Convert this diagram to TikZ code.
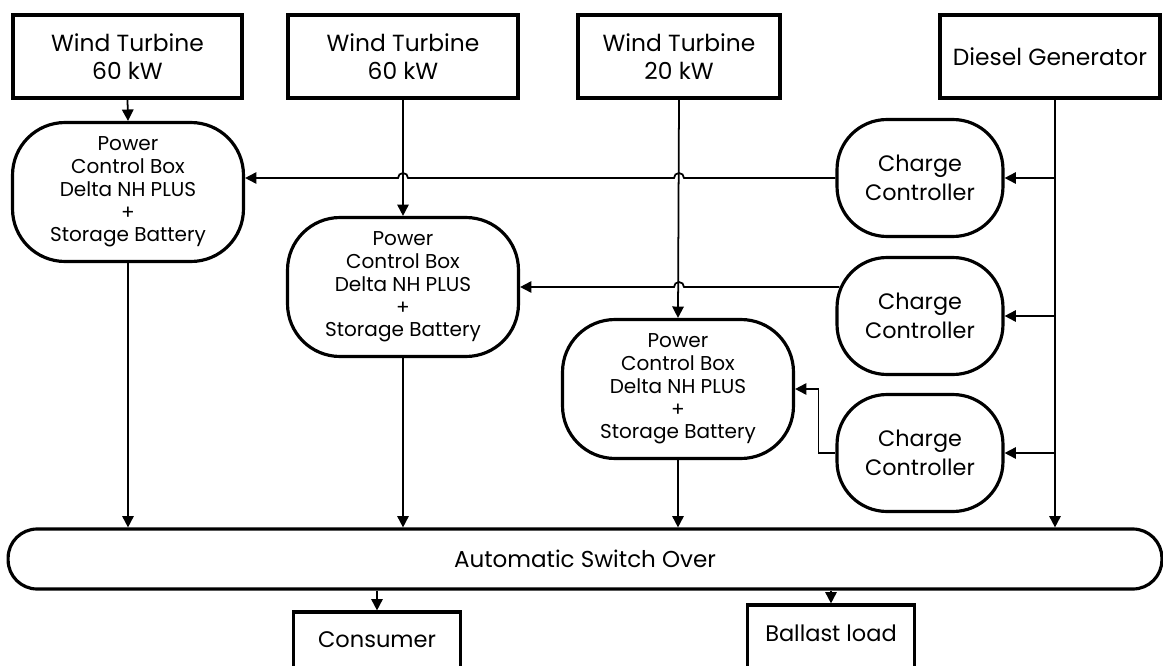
\documentclass[tikz,border=0pt]{standalone}
\usepackage{fontspec}
\setmainfont{Poppins}
\usetikzlibrary{arrows.meta,positioning}
\tikzset{
	unit/.style={draw, line width=1.8pt, align=center, inner sep=2pt},
	source/.style={unit, minimum height=1.66cm, font=\fontsize{13.3}{16}\selectfont},
	pcb/.style={unit, rounded corners=1.05cm, minimum width=4.62cm, minimum height=2.78cm,
		font=\fontsize{11.4}{13}\selectfont},
	ctrl/.style={unit, rounded corners=1cm, minimum width=3.32cm, minimum height=2.34cm,
		font=\fontsize{12.7}{16.3}\selectfont},
	load/.style={unit, minimum width=3.34cm, minimum height=1.6cm, font=\fontsize{12.8}{15}\selectfont},
	flow/.style={-{Triangle[length=6.5pt,width=6.5pt]}, line width=1pt}
}
\begin{document}
\begin{tikzpicture}[x=0.02cm, y=-0.02cm]
	\useasboundingbox (0,0) rectangle (1163,666);
	\clip (0,0) rectangle (1163,666);
	% sources
	\node[source, minimum width=4.58cm] (wtA) at (127.5,56.5) {Wind Turbine\\60 kW};
	\node[source, minimum width=4.6cm] (wtB) at (403,56.5) {Wind Turbine\\60 kW};
	\node[source, minimum width=4.04cm] (wtC) at (679,56.5) {Wind Turbine\\20 kW};
	\node[source, minimum width=4.4cm] (diesel) at (1050,56.5) {Diesel Generator};
	% power control boxes
	\node[pcb] (pcbA) at (128,192) {Power\\Control Box\\Delta NH PLUS\\+\\Storage Battery};
	\node[pcb] (pcbB) at (403,287) {Power\\Control Box\\Delta NH PLUS\\+\\Storage Battery};
	\node[pcb] (pcbC) at (678,389) {Power\\Control Box\\Delta NH PLUS\\+\\Storage Battery};
	% charge controllers
	\node[ctrl] (ccA) at (920,178) {Charge\\Controller};
	\node[ctrl] (ccB) at (920,316) {Charge\\Controller};
	\node[ctrl] (ccC) at (920,453) {Charge\\Controller};
	% switch and loads
	\node[unit, rounded corners=0.58cm, minimum width=23.08cm, minimum height=1.2cm,
		font=\fontsize{13.1}{15}\selectfont] (switch) at (585,559) {Automatic Switch Over};
	\node[load, minimum height=1.52cm] (consumer) at (377,650) {Consumer\\[-3.6pt]};
	\node[load] (ballast) at (831,645) {Ballast load\\[-1.4pt]};
	
	\draw[flow] (wtA.south) -- (pcbA.north);
	\draw[flow] (wtB.south) -- (pcbB.north);
	\draw[flow] (wtC.south) -- (pcbC.north);
	\path (diesel.south) ++(5,0) coordinate (dtap);
	\draw[flow] (dtap) -- (dtap |- switch.north);
	\draw[flow] (dtap |- ccA.east) -- (ccA.east);
	\draw[flow] (dtap |- ccB.east) -- (ccB.east);
	\draw[flow] (dtap |- ccC.east) -- (ccC.east);
	% lines hopping over the turbine feeds
	\draw[flow] (ccA.west) -- ([xshift=0.1cm]wtC.south |- ccA.west)
		arc[start angle=0, end angle=180, radius=0.1cm]
		-- ([xshift=0.1cm]wtB.south |- ccA.west)
		arc[start angle=0, end angle=180, radius=0.1cm]
		-- (pcbA.east |- ccA.west);
	\draw[flow] ([xshift=0.08cm]ccB.west |- pcbB.east) -- ([xshift=0.1cm]wtC.south |- pcbB.east)
		arc[start angle=0, end angle=180, radius=0.1cm]
		-- (pcbB.east);
	\draw[flow] (ccC.west) -- ++(-17,0) |- (pcbC.east);
	
	\draw[flow] (pcbA.south) -- (pcbA.south |- switch.north);
	\draw[flow] (pcbB.south) -- (pcbB.south |- switch.north);
	\draw[flow] (pcbC.south) -- (pcbC.south |- switch.north);
	\draw[flow] (consumer.north |- switch.south) -- (consumer.north);
	\draw[flow] (ballast.north |- switch.south) -- (ballast.north);
\end{tikzpicture}
\end{document}
